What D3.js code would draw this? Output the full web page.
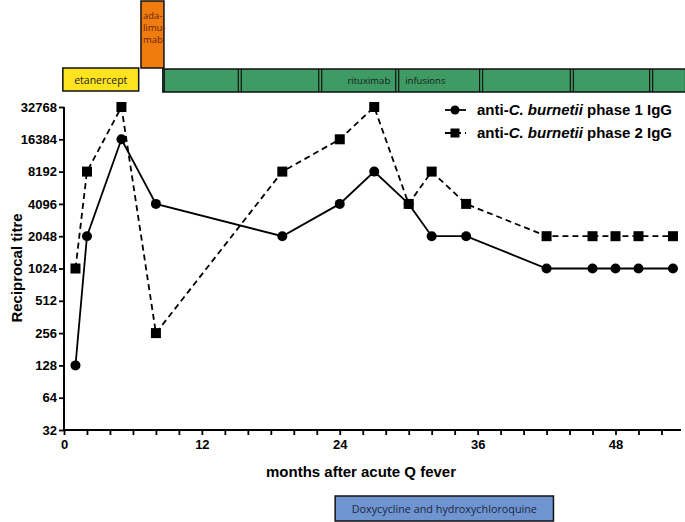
<!DOCTYPE html>
<html>
<head>
<meta charset="utf-8">
<script src="https://cdn.jsdelivr.net/npm/d3@7"></script>
<style>
  body { margin: 0; background: #fff; }
  svg text { font-family: "Liberation Sans", Arial, sans-serif; }
</style>
</head>
<body>
<div id="chart"></div>
<script>
// data
const months = [1, 2, 5, 8, 19, 24, 27, 30, 32, 35, 42, 46, 48, 50, 53];
const phase1 = [128, 2048, 16384, 4096, 2048, 4096, 8192, 4096, 2048, 2048, 1024, 1024, 1024, 1024, 1024];
const phase2 = [1024, 8192, 32768, 256, 8192, 16384, 32768, 4096, 8192, 4096, 2048, 2048, 2048, 2048, 2048];
const yTicks = [32, 64, 128, 256, 512, 1024, 2048, 4096, 8192, 16384, 32768];
const xTicks = [0, 12, 24, 36, 48];

// treatment periods (months)
const etanercept = [-0.1, 6.5];
const adalimumab = [6.7, 8.7];
const rituximabBreaks = [8.6, 15.3, 22.3, 29, 36.3, 44.2, 51.1, 54.1];
const doxy = [23.6, 42.6];

const W = 685, H = 522;
const svg = d3.select("#chart").append("svg")
    .attr("width", W)
    .attr("height", H);

const x = d3.scaleLinear().domain([0, 53.7]).range([64, 681]);
const y = d3.scaleLog().base(2).domain([32, 32768]).range([430, 107]);

// ---- treatment bars on top ----
svg.append("rect")
    .attr("x", x(etanercept[0])).attr("y", 68)
    .attr("width", x(etanercept[1]) - x(etanercept[0])).attr("height", 23)
    .attr("fill", "#fde41e").attr("stroke", "#111").attr("stroke-width", 1.5);
svg.append("text")
    .attr("x", (x(etanercept[0]) + x(etanercept[1])) / 2).attr("y", 83.5)
    .attr("text-anchor", "middle")
    .style("font-family", "'Open Sans', sans-serif").style("font-size", "10.5px")
    .attr("fill", "#222").text("etanercept");

svg.append("rect")
    .attr("x", x(adalimumab[0])).attr("y", 1)
    .attr("width", x(adalimumab[1]) - x(adalimumab[0])).attr("height", 67)
    .attr("fill", "#f07c0f").attr("stroke", "#111").attr("stroke-width", 1.5);
["ada-", "limu-", "mab"].forEach((t, i) => {
    svg.append("text")
        .attr("x", x(adalimumab[0]) + 2).attr("y", 19 + i * 12)
        .style("font-family", "'Open Sans', sans-serif").style("font-size", "9.5px")
        .attr("fill", "#6b2200").text(t);
});

svg.append("rect")
    .attr("x", x(rituximabBreaks[0])).attr("y", 69)
    .attr("width", x(rituximabBreaks[rituximabBreaks.length - 1]) - x(rituximabBreaks[0])).attr("height", 23)
    .attr("fill", "#3d9b63").attr("stroke", "#111").attr("stroke-width", 1.5);
// double separators between infusions
rituximabBreaks.slice(0, -1).forEach((m, i) => {
    [-1.5, 1.5].forEach(d => {
        if (i === 0 && d < 0) return;
        svg.append("line")
            .attr("x1", x(m) + d).attr("x2", x(m) + d)
            .attr("y1", 69).attr("y2", 92)
            .attr("stroke", "#111").attr("stroke-width", 1.2);
    });
});
svg.append("text")
    .attr("x", x(rituximabBreaks[3]) - 7).attr("y", 84)
    .attr("text-anchor", "end")
    .style("font-family", "'Open Sans', sans-serif").style("font-size", "9.5px")
    .attr("fill", "#1a1a1a").text("rituximab");
svg.append("text")
    .attr("x", x(rituximabBreaks[3]) + 8).attr("y", 84)
    .style("font-family", "'Open Sans', sans-serif").style("font-size", "9.5px")
    .attr("fill", "#1a1a1a").text("infusions");

// ---- axes ----
const yAxis = d3.axisLeft(y).tickValues(yTicks).tickFormat(d3.format("d")).tickSize(5).tickPadding(2);
const gy = svg.append("g").attr("transform", "translate(64,0)").call(yAxis);
const xAxis = d3.axisBottom(x).tickValues(d3.range(0, 54, 2)).tickSize(5).tickPadding(5)
    .tickFormat(d => xTicks.includes(d) ? d : "");
const gx = svg.append("g").attr("transform", "translate(0,430)").call(xAxis);

[gx, gy].forEach(g => {
    g.select(".domain").attr("stroke", "#000").attr("stroke-width", 2);
    g.selectAll(".tick line").attr("stroke", "#000").attr("stroke-width", 1.8);
    g.selectAll(".tick text").attr("fill", "#000")
        .style("font-size", "13px").style("font-weight", "bold");
});
gy.select(".domain").attr("d", "M0,430V107");
gx.select(".domain").attr("d", "M64,0H681");

svg.append("text")
    .attr("transform", "translate(22,268) rotate(-90)")
    .attr("text-anchor", "middle")
    .style("font-size", "15px").style("font-weight", "bold")
    .text("Reciprocal titre");
svg.append("text")
    .attr("x", 361).attr("y", 477)
    .attr("text-anchor", "middle")
    .style("font-size", "15px").style("font-weight", "bold")
    .text("months after acute Q fever");

// ---- series ----
const line = d3.line().x(d => x(d[0])).y(d => y(d[1]));
const s1 = months.map((m, i) => [m, phase1[i]]);
const s2 = months.map((m, i) => [m, phase2[i]]);

svg.append("path").datum(s2).attr("d", line)
    .attr("fill", "none").attr("stroke", "#000").attr("stroke-width", 1.8)
    .attr("stroke-dasharray", "6,4");
svg.append("path").datum(s1).attr("d", line)
    .attr("fill", "none").attr("stroke", "#000").attr("stroke-width", 1.8);

svg.selectAll(".sq").data(s2).enter().append("rect")
    .attr("x", d => x(d[0]) - 5).attr("y", d => y(d[1]) - 5)
    .attr("width", 10).attr("height", 10).attr("fill", "#000");
svg.selectAll(".dot").data(s1).enter().append("circle")
    .attr("cx", d => x(d[0])).attr("cy", d => y(d[1]))
    .attr("r", 5).attr("fill", "#000");

// ---- legend ----
const legend = svg.append("g");
const rows = [
    { num: "1", y: 110, dash: null, shape: "circle" },
    { num: "2", y: 133, dash: "6,4", shape: "square" }
];
rows.forEach(r => {
    legend.append("line").attr("x1", 445).attr("x2", 466).attr("y1", r.y).attr("y2", r.y)
        .attr("stroke", "#000").attr("stroke-width", 1.8).attr("stroke-dasharray", r.dash);
    if (r.shape === "circle") {
        legend.append("circle").attr("cx", 455).attr("cy", r.y).attr("r", 4.5);
    } else {
        legend.append("rect").attr("x", 450.5).attr("y", r.y - 4.5).attr("width", 9).attr("height", 9);
    }
    const t = legend.append("text").attr("x", 477).attr("y", r.y + 5)
        .style("font-size", "15px").style("font-weight", "bold");
    t.append("tspan").text("anti-");
    t.append("tspan").style("font-style", "italic").text("C. burnetii");
    t.append("tspan").text(" phase " + r.num + " IgG");
});

// ---- doxycycline bar ----
svg.append("rect")
    .attr("x", x(doxy[0])).attr("y", 496)
    .attr("width", x(doxy[1]) - x(doxy[0])).attr("height", 25)
    .attr("fill", "#6f95d0").attr("stroke", "#111").attr("stroke-width", 1.5);
svg.append("text")
    .attr("x", (x(doxy[0]) + x(doxy[1])) / 2).attr("y", 513)
    .attr("text-anchor", "middle")
    .style("font-family", "'Open Sans', sans-serif").style("font-size", "10.8px")
    .attr("fill", "#1c2740").text("Doxycycline and hydroxychloroquine");
</script>
</body>
</html>
